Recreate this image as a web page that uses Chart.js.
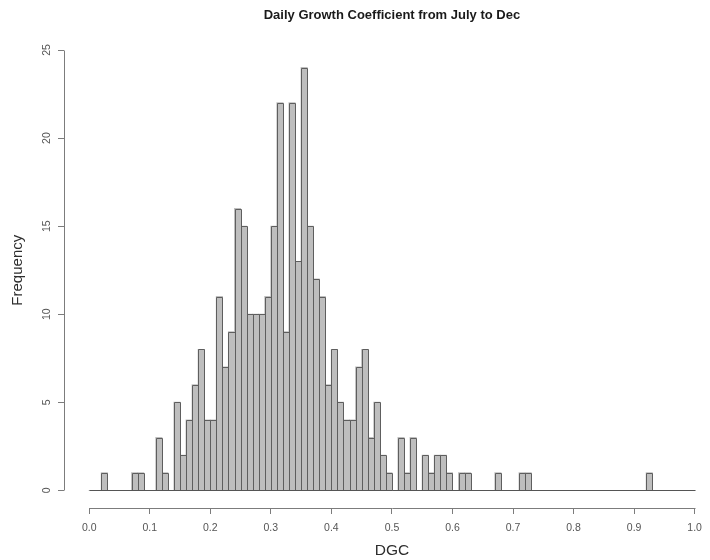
<!DOCTYPE html>
<html>
<head>
<meta charset="utf-8">
<script src="https://cdn.jsdelivr.net/npm/chart.js@4/dist/chart.umd.min.js"></script>
<style>
  html, body { margin: 0; padding: 0; background: #ffffff; }
  #wrap { width: 710px; height: 560px; position: relative; }
</style>
</head>
<body>
<div id="wrap"><canvas id="c" width="710" height="560"></canvas></div>
<script>
// ---- data (bins of width 0.01 from 0.00 to 1.00) ----
const titleText = "Daily Growth Coefficient from July to Dec";
const xLabel = "DGC";
const yLabel = "Frequency";
const binStart = 0.0;
const binWidth = 0.01;
const counts = [
  0, 0, 1, 0, 0, 0, 0, 1, 1, 0,      // 0.00 - 0.09
  0, 3, 1, 0, 5, 2, 4, 6, 8, 4,      // 0.10 - 0.19
  4, 11, 7, 9, 16, 15, 10, 10, 10, 11, // 0.20 - 0.29
  15, 22, 9, 22, 13, 24, 15, 12, 11, 6, // 0.30 - 0.39
  8, 5, 4, 4, 7, 8, 3, 5, 2, 1,      // 0.40 - 0.49
  0, 3, 1, 3, 0, 2, 1, 2, 2, 1,      // 0.50 - 0.59
  0, 1, 1, 0, 0, 0, 0, 1, 0, 0,      // 0.60 - 0.69
  0, 1, 1, 0, 0, 0, 0, 0, 0, 0,      // 0.70 - 0.79
  0, 0, 0, 0, 0, 0, 0, 0, 0, 0,      // 0.80 - 0.89
  0, 0, 1, 0, 0, 0, 0, 0, 0, 0       // 0.90 - 0.99
];
const xTicks = [0.0, 0.1, 0.2, 0.3, 0.4, 0.5, 0.6, 0.7, 0.8, 0.9, 1.0];
const yTicks = [0, 5, 10, 15, 20, 25];

const points = counts.map((c, i) => ({ x: binStart + (i + 0.5) * binWidth, y: c }));

const FONT = "'Liberation Sans', Arial, Helvetica, sans-serif";
const AXIS_COLOR = '#7c7c7c';
const BAR_EDGE = '#5e5e5e';

// crisp 1px outlines around each bar, taken from the bar elements Chart.js laid out
const barOutline = {
  id: 'barOutline',
  afterDatasetsDraw(chart) {
    const { ctx } = chart;
    const meta = chart.getDatasetMeta(0);
    ctx.save();
    ctx.strokeStyle = BAR_EDGE;
    ctx.lineWidth = 1;
    meta.data.forEach((el, i) => {
      if (!counts[i]) return;
      const p = el.getProps(['x', 'y', 'base', 'width'], true);
      const l = Math.round(p.x - p.width / 2) + 0.5;
      const r = Math.round(p.x + p.width / 2) + 0.5;
      const t = Math.round(p.y) + 0.5;
      const b = Math.round(p.base) + 0.5;
      ctx.beginPath();
      ctx.moveTo(l, b);
      ctx.lineTo(l, t);
      ctx.lineTo(r, t);
      ctx.lineTo(r, b);
      ctx.stroke();
    });
    ctx.restore();
  }
};

const rAxes = {
  id: 'rAxes',
  afterDraw(chart) {
    const { ctx, chartArea, scales: { x, y } } = chart;
    ctx.save();
    ctx.strokeStyle = AXIS_COLOR;
    ctx.lineWidth = 1;
    // x axis line (from first to last tick)
    const yb = Math.round(chartArea.bottom) + 0.5;
    ctx.beginPath();
    ctx.moveTo(Math.round(x.getPixelForValue(xTicks[0])) + 0.5, yb);
    ctx.lineTo(Math.round(x.getPixelForValue(xTicks[xTicks.length - 1])) + 0.5, yb);
    ctx.stroke();
    // y axis line
    const xl = Math.round(chartArea.left) + 0.5;
    ctx.beginPath();
    ctx.moveTo(xl, Math.round(y.getPixelForValue(yTicks[0])) + 0.5);
    ctx.lineTo(xl, Math.round(y.getPixelForValue(yTicks[yTicks.length - 1])) + 0.5);
    ctx.stroke();
    // histogram baseline (zero-height bins drawn as a flat line)
    ctx.strokeStyle = '#555555';
    const y0 = Math.round(y.getPixelForValue(0)) + 0.5;
    ctx.beginPath();
    ctx.moveTo(Math.round(x.getPixelForValue(binStart)) + 0.5, y0);
    ctx.lineTo(Math.round(x.getPixelForValue(binStart + counts.length * binWidth)) + 0.5, y0);
    ctx.stroke();

    // titles
    const cx = x.getPixelForValue(0.5);
    ctx.textAlign = 'center';
    ctx.textBaseline = 'middle';
    ctx.fillStyle = '#1a1a1a';
    ctx.font = 'bold 13px ' + FONT;
    ctx.fillText(titleText, cx, 15);
    ctx.fillStyle = '#2e2e2e';
    ctx.font = '15.5px ' + FONT;
    ctx.fillText(xLabel, cx, 551);
    ctx.save();
    ctx.translate(18, y.getPixelForValue(12.5));
    ctx.rotate(-Math.PI / 2);
    ctx.font = '15px ' + FONT;
    ctx.fillText(yLabel, 0, 0);
    ctx.restore();
    ctx.restore();
  }
};

new Chart(document.getElementById('c'), {
  type: 'bar',
  data: {
    datasets: [{
      data: points,
      backgroundColor: '#bebebe',
      borderWidth: 0,
      barPercentage: 1.0,
      categoryPercentage: 1.0,
      inflateAmount: 0.5
    }]
  },
  options: {
    responsive: false,
    animation: false,
    devicePixelRatio: 1,
    layout: { padding: { top: 50, right: 10, bottom: 0, left: 0 } },
    plugins: { legend: { display: false }, title: { display: false }, tooltip: { enabled: false } },
    scales: {
      x: {
        type: 'linear',
        min: -0.0416,
        max: 1.0044,
        offset: false,
        afterBuildTicks: (s) => { s.ticks = xTicks.map(v => ({ value: v })); },
        afterFit: (s) => { s.height = 52; },
        border: { display: false },
        grid: { display: true, offset: false, drawOnChartArea: false, drawTicks: true, tickLength: 6, color: AXIS_COLOR, lineWidth: 1 },
        ticks: {
          autoSkip: false,
          maxRotation: 0,
          minRotation: 0,
          padding: 8,
          color: '#555555',
          font: { family: FONT, size: 10.5 },
          callback: (v) => Number(v).toFixed(1)
        }
      },
      y: {
        type: 'linear',
        min: -1,
        max: 25,
        afterBuildTicks: (s) => { s.ticks = yTicks.map(v => ({ value: v })); },
        afterFit: (s) => { s.width = 64; },
        border: { display: false },
        grid: { display: true, offset: false, drawOnChartArea: false, drawTicks: true, tickLength: 6, color: AXIS_COLOR, lineWidth: 1 },
        ticks: {
          autoSkip: false,
          minRotation: 90,
          maxRotation: 90,
          crossAlign: 'center',
          padding: 5,
          color: '#555555',
          font: { family: FONT, size: 10.5 },
          callback: (v) => String(v)
        }
      }
    }
  },
  plugins: [barOutline, rAxes]
});
</script>
</body>
</html>
